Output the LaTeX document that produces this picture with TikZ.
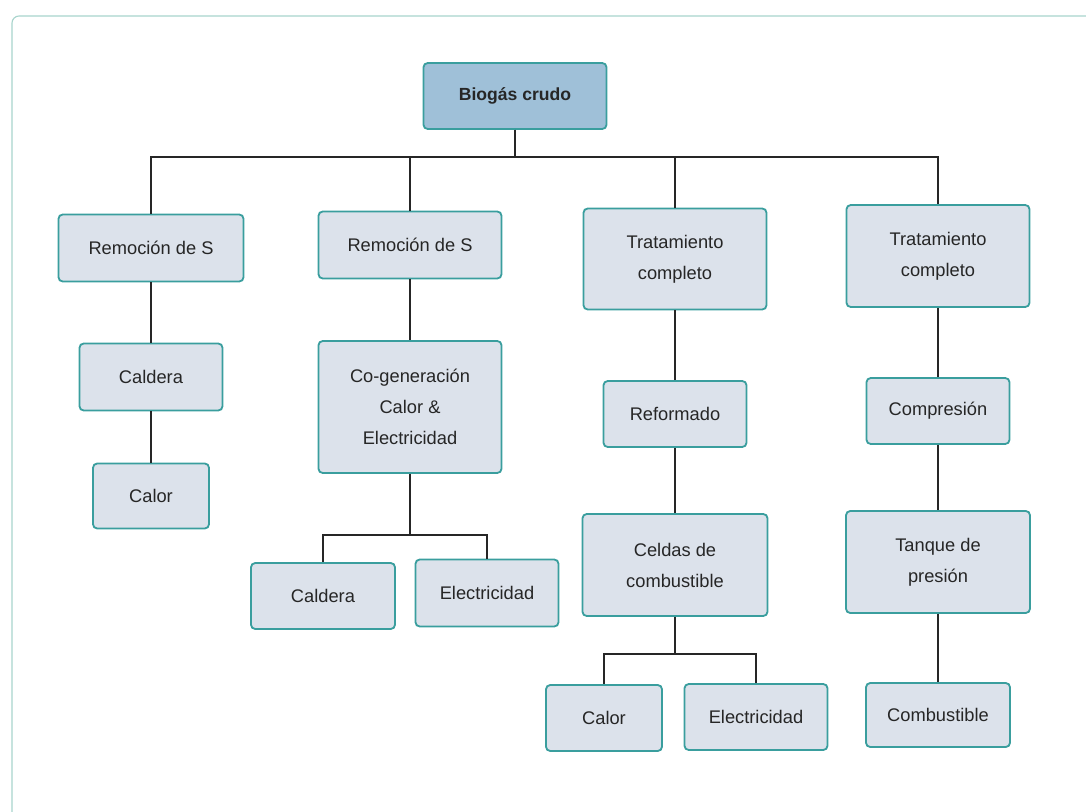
\documentclass[tikz,border=0pt]{standalone}
\usepackage{fontspec}
\setmainfont{Liberation Sans}
\definecolor{boxfill}{HTML}{DCE2EB}
\definecolor{rootfill}{HTML}{9FC0D8}
\definecolor{boxline}{HTML}{3A9E9E}
\definecolor{frameline}{HTML}{A8D4CC}
\begin{document}
\begin{tikzpicture}[
		x=0.025cm, y=-0.025cm,
		stage/.style={draw=boxline, line width=1.3pt, fill=boxfill, rounded corners=3pt,
			align=center, text=black!85, font=\fontsize{13}{22}\selectfont, inner sep=0pt},
		root/.style={stage, fill=rootfill, font=\fontsize{12.5}{15}\selectfont\bfseries},
		link/.style={draw=black!85, line width=1.3pt},
		frame/.style={draw=frameline, line width=0.8pt, rounded corners=5pt}
		]
		\useasboundingbox (0,0) rectangle (1086,811);
		
		% outer frame
		\draw[frame] (1095,16) -- (12,16) -- (12,820);
		
		% Root
		\node[root, minimum width=183*0.025cm, minimum height=66*0.025cm] (root) at (515,96) {Biogás crudo};
		\coordinate (bus) at (0,157);
		
		% Column 1
		\node[stage, minimum width=185*0.025cm, minimum height=67*0.025cm] (sA) at (151,248) {Remoción de S};
		\node[stage, minimum width=143*0.025cm, minimum height=67*0.025cm] (caldA) at (151,377) {Caldera};
		\node[stage, minimum width=116*0.025cm, minimum height=65*0.025cm] (calorA) at (151,496) {Calor};
		
		% Column 2
		\node[stage, minimum width=183*0.025cm, minimum height=67*0.025cm] (sB) at (410,245) {Remoción de S};
		\node[stage, minimum width=183*0.025cm, minimum height=132*0.025cm] (cogen) at (410,407) {Co-generación\\Calor \&\\Electricidad};
		\node[stage, minimum width=144*0.025cm, minimum height=66*0.025cm] (caldB) at (323,596) {Caldera};
		\node[stage, minimum width=143*0.025cm, minimum height=67*0.025cm] (elecB) at (487,593) {Electricidad};
		\coordinate (busB) at (0,535);
		
		% Column 3
		\node[stage, minimum width=183*0.025cm, minimum height=101*0.025cm] (tratC) at (675,259) {Tratamiento\\completo};
		\node[stage, minimum width=143*0.025cm, minimum height=66*0.025cm] (reform) at (675,414) {Reformado};
		\node[stage, minimum width=185*0.025cm, minimum height=102*0.025cm] (celdas) at (675,565) {Celdas de\\combustible};
		\node[stage, minimum width=116*0.025cm, minimum height=66*0.025cm] (calorC) at (604,718) {Calor};
		\node[stage, minimum width=143*0.025cm, minimum height=66*0.025cm] (elecC) at (756,717) {Electricidad};
		\coordinate (busC) at (0,654);
		
		% Column 4
		\node[stage, minimum width=183*0.025cm, minimum height=102*0.025cm] (tratD) at (938,256) {Tratamiento\\completo};
		\node[stage, minimum width=143*0.025cm, minimum height=66*0.025cm] (compr) at (938,411) {Compresión};
		\node[stage, minimum width=184*0.025cm, minimum height=102*0.025cm] (tanque) at (938,562) {Tanque de\\presión};
		\node[stage, minimum width=144*0.025cm, minimum height=64*0.025cm] (combD) at (938,715) {Combustible};
		
		% Links from the root
		\draw[link] (root.south) -- (root.south |- bus) -| (sA.north);
		\draw[link] (root.south) -- (root.south |- bus) -| (sB.north);
		\draw[link] (root.south) -- (root.south |- bus) -| (tratC.north);
		\draw[link] (root.south) -- (root.south |- bus) -| (tratD.north);
		
		% Chains
		\draw[link] (sA) -- (caldA);
		\draw[link] (caldA) -- (calorA);
		\draw[link] (sB) -- (cogen);
		\draw[link] (cogen.south) -- (cogen.south |- busB) -| (caldB.north);
		\draw[link] (cogen.south) -- (cogen.south |- busB) -| (elecB.north);
		\draw[link] (tratC) -- (reform);
		\draw[link] (reform) -- (celdas);
		\draw[link] (celdas.south) -- (celdas.south |- busC) -| (calorC.north);
		\draw[link] (celdas.south) -- (celdas.south |- busC) -| (elecC.north);
		\draw[link] (tratD) -- (compr);
		\draw[link] (compr) -- (tanque);
		\draw[link] (tanque) -- (combD);
		
	\end{tikzpicture}
\end{document}
